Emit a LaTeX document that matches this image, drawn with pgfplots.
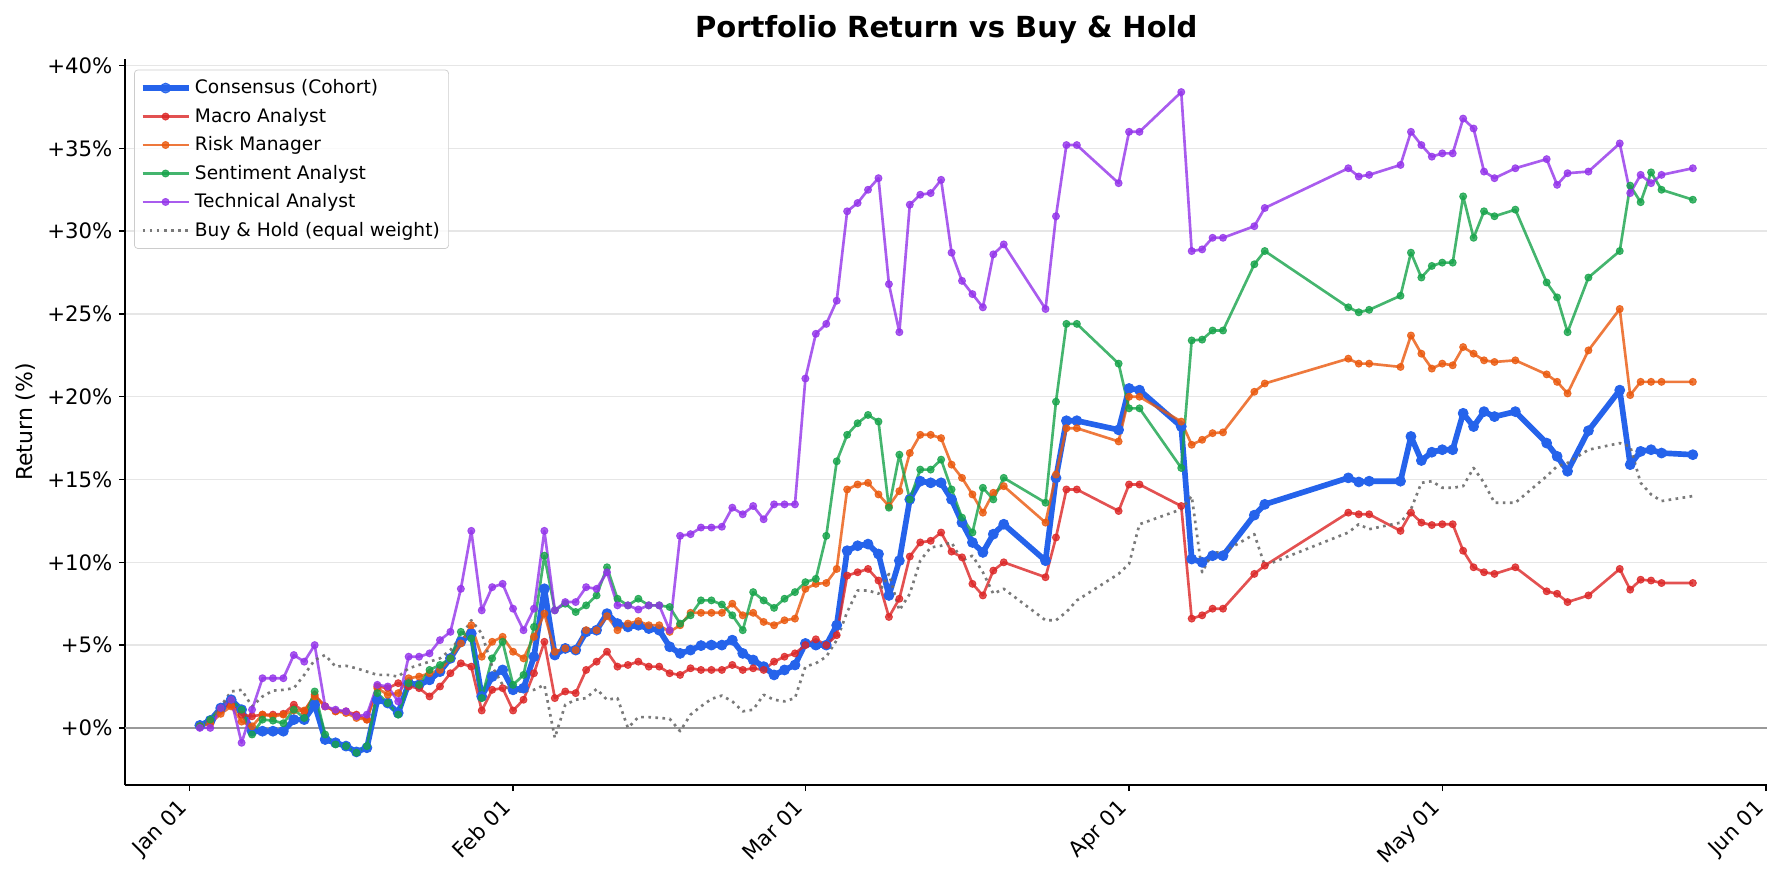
\documentclass[border=0pt]{standalone}
\usepackage{fontspec}
\setmainfont{DejaVu Sans}
\usepackage{pgfplots}
\usepackage{pgfplotstable}
\pgfplotsset{compat=1.18}
\definecolor{ccons}{HTML}{2563EB}
\definecolor{cmacro}{HTML}{DC2626}
\definecolor{crisk}{HTML}{EA580C}
\definecolor{csent}{HTML}{16A34A}
\definecolor{ctech}{HTML}{9333EA}
\definecolor{cbh}{HTML}{6B6B6B}
\definecolor{cgrid}{HTML}{E6E6E6}

\pgfplotstableread{
d cons macro risk sent tech bh
1 0.15 0.1 0.1 0.1 0.0 0.0
2 0.45 0.4 0.25 0.5 0.0 0.4
3 1.2 1.1 0.85 1.2 1.2 1.3
4 1.7 1.4 1.3 1.7 1.7 2.2
5 1.1 0.8 0.38 1.1 -0.9 2.3
6 -0.2 0.7 0.1 -0.4 1.1 1.3
7 -0.2 0.8 0.8 0.5 3.0 1.9
8 -0.2 0.8 0.7 0.44 3.0 2.25
9 -0.2 0.85 0.8 0.28 3.0 2.3
10 0.5 1.4 1.05 1.1 4.4 2.4
11 0.5 1.0 1.05 0.6 4.0 3.2
12 1.4 2.0 1.9 2.2 5.0 4.1
13 -0.7 1.3 1.3 -0.4 1.3 4.4
14 -0.9 1.0 1.0 -1.0 1.1 3.7
15 -1.1 1.0 0.9 -1.1 1.0 3.75
16 -1.45 0.8 0.6 -1.5 0.7 3.6
17 -1.2 0.5 0.5 -1.1 0.8 3.4
18 1.7 2.5 2.4 2.1 2.6 3.2
19 1.5 2.4 2.0 1.5 2.5 3.2
20 0.9 2.7 2.1 0.8 1.6 3.1
21 2.7 2.5 3.0 2.7 4.3 3.6
22 2.6 2.4 3.1 2.6 4.3 3.8
23 2.9 1.9 3.3 3.5 4.5 4.0
24 3.4 2.5 3.5 3.8 5.3 4.2
25 4.2 3.3 4.2 4.2 5.8 4.7
26 5.2 3.9 5.1 5.8 8.4 5.5
27 5.7 3.7 6.2 5.4 11.9 6.5
28 1.9 1.05 4.3 1.8 7.1 5.7
29 3.1 2.3 5.2 4.2 8.5 3.7
30 3.5 2.4 5.5 5.2 8.7 2.6
31 2.3 1.05 4.6 2.6 7.2 2.2
32 2.4 1.7 4.2 3.2 5.9 2.2
33 4.3 3.3 5.5 6.1 7.2 2.3
34 8.4 5.2 6.9 10.4 11.9 2.6
35 4.4 1.8 4.6 7.1 7.1 -0.6
36 4.8 2.2 4.8 7.5 7.6 1.4
37 4.7 2.1 4.7 7.0 7.6 1.7
38 5.8 3.5 5.9 7.4 8.5 1.8
39 5.9 4.0 5.9 8.0 8.4 2.35
40 6.9 4.6 6.75 9.7 9.4 1.7
41 6.3 3.7 5.9 7.8 7.4 1.8
42 6.1 3.8 6.3 7.4 7.4 0.0
43 6.2 4.0 6.45 7.8 7.15 0.65
44 6.0 3.7 6.2 7.4 7.4 0.65
45 5.9 3.7 6.2 7.4 7.4 0.6
46 4.9 3.3 5.8 7.3 5.9 0.55
47 4.5 3.2 6.2 6.3 11.6 -0.2
48 4.7 3.6 6.95 6.8 11.7 0.8
49 4.97 3.5 6.95 7.7 12.1 1.3
50 5.0 3.5 6.95 7.7 12.1 1.75
51 5.0 3.5 6.95 7.45 12.15 1.95
52 5.3 3.8 7.5 6.8 13.3 1.6
53 4.5 3.5 6.8 5.9 12.9 1.0
54 4.1 3.6 6.95 8.2 13.4 1.1
55 3.7 3.5 6.4 7.7 12.6 2.0
56 3.2 4.0 6.2 7.25 13.5 1.7
57 3.5 4.3 6.5 7.8 13.5 1.6
58 3.8 4.5 6.6 8.2 13.5 1.8
59 5.1 5.0 8.4 8.8 21.1 3.7
60 5.0 5.35 8.7 9.0 23.8 3.9
61 5.0 5.0 8.75 11.6 24.4 4.3
62 6.2 5.6 9.6 16.1 25.8 5.3
63 10.7 9.2 14.4 17.7 31.2 7.0
64 11.0 9.4 14.7 18.4 31.7 8.3
65 11.1 9.6 14.8 18.9 32.5 8.3
66 10.5 8.9 14.1 18.5 33.2 8.1
67 8.0 6.7 13.4 13.3 26.8 9.3
68 10.1 7.8 14.3 16.5 23.9 7.1
69 13.8 10.35 16.6 13.8 31.6 8.1
70 14.9 11.2 17.7 15.6 32.2 10.1
71 14.8 11.3 17.7 15.6 32.3 10.9
72 14.8 11.8 17.5 16.2 33.1 11.0
73 13.8 10.65 15.9 14.4 28.7 11.2
74 12.4 10.3 15.1 12.7 27.0 10.1
75 11.2 8.7 14.1 11.8 26.2 10.4
76 10.6 8.0 13.0 14.5 25.4 9.4
77 11.7 9.5 14.2 13.8 28.6 8.1
78 12.3 10.0 14.6 15.1 29.2 8.4
82 10.1 9.1 12.4 13.6 25.3 6.5
83 15.1 11.5 15.3 19.7 30.9 6.5
84 18.55 14.4 18.1 24.4 35.2 7.0
85 18.55 14.4 18.1 24.4 35.2 7.7
89 18.0 13.1 17.3 22.0 32.9 9.3
90 20.5 14.7 20.0 19.3 36.0 9.9
91 20.4 14.7 20.0 19.3 36.0 12.3
95 18.2 13.4 18.5 15.7 38.4 13.2
96 10.2 6.6 17.1 23.4 28.8 14.0
97 10.0 6.8 17.4 23.45 28.9 9.4
98 10.4 7.2 17.8 24.0 29.6 10.6
99 10.4 7.2 17.85 24.0 29.6 10.6
102 12.85 9.3 20.3 28.0 30.3 11.7
103 13.5 9.8 20.8 28.8 31.4 9.8
111 15.1 13.0 22.3 25.4 33.8 11.8
112 14.85 12.9 22.0 25.1 33.3 12.3
113 14.9 12.9 22.0 25.25 33.4 12.0
116 14.9 11.9 21.8 26.1 34.0 12.4
117 17.6 13.0 23.7 28.7 36.0 13.2
118 16.15 12.4 22.6 27.2 35.2 14.8
119 16.65 12.25 21.7 27.9 34.5 14.9
120 16.8 12.3 22.0 28.1 34.7 14.5
121 16.8 12.3 21.9 28.1 34.7 14.5
122 19.0 10.7 23.0 32.1 36.8 14.6
123 18.2 9.7 22.6 29.6 36.2 15.7
124 19.1 9.4 22.2 31.2 33.6 14.8
125 18.8 9.3 22.1 30.9 33.2 13.6
127 19.1 9.7 22.2 31.3 33.8 13.6
130 17.2 8.25 21.35 26.9 34.35 15.2
131 16.4 8.1 20.9 26.0 32.8 15.8
132 15.5 7.6 20.2 23.9 33.5 16.0
134 17.95 8.0 22.8 27.2 33.6 16.8
137 20.4 9.6 25.3 28.8 35.3 17.2
138 15.9 8.35 20.1 32.75 32.3 17.0
139 16.7 8.95 20.9 31.75 33.4 14.8
140 16.8 8.9 20.9 33.55 32.9 14.1
141 16.6 8.75 20.9 32.5 33.4 13.7
144 16.5 8.75 20.9 31.9 33.8 14.0
}\data

\begin{document}
\begin{tikzpicture}
\useasboundingbox (0,0) rectangle (1008pt,498.6pt);
\begin{axis}[
  at={(70.7pt,55.3pt)}, anchor=south west,
  scale only axis, width=927.4pt, height=410pt,
  xmin=-6.15, xmax=151.15, ymin=-3.45, ymax=40.4,
  separate axis lines,
  axis x line*=bottom, axis y line*=left,
  x axis line style={-, black, line width=0.8pt},
  y axis line style={-, black, line width=0.8pt},
  xtick={0,31,59,90,120,151},
  xticklabels={Jan 01,Feb 01,Mar 01,Apr 01,May 01,Jun 01},
  ytick={0,5,10,15,20,25,30,35,40},
  yticklabels={+0\%,+5\%,+10\%,+15\%,+20\%,+25\%,+30\%,+35\%,+40\%},
  tick align=outside, major tick length=3.5pt,
  tick style={black, line width=0.8pt},
  ticklabel style={font=\fontsize{12}{14}\selectfont},
  yticklabel style={anchor=east, inner sep=0pt, xshift=-3.5pt},
  xticklabel style={xshift=-7pt, yshift=-3.5pt, rotate=45, anchor=north east, inner sep=0pt},
  ymajorgrids, grid style={color=cgrid, line width=0.8pt},
  legend cell align=left,
  legend style={at={(rel axis cs:0,1)}, anchor=north west, xshift=5pt, yshift=-6pt,
    draw=black!20, fill=white, fill opacity=0.8, text opacity=1, draw opacity=1,
    rounded corners=2pt, font=\fontsize{10.5}{12.5}\selectfont, row sep=2.6pt,
    inner xsep=3pt, inner ysep=3.5pt},
  legend image code/.code={\draw[mark repeat=2,mark phase=2] plot coordinates {(0pt,0pt) (13pt,0pt) (26pt,0pt)};},
  line join=round,
]
\draw[black!40, line width=0.9pt] (axis cs:-6.15,0) -- (axis cs:151.15,0);
\addplot[ccons, line width=3.2pt, mark=*, mark size=2.8pt, mark options={solid, line width=0.5pt}] table[x=d,y=cons]{\data};
\addlegendentry{Consensus (Cohort)}
\addplot[cmacro, opacity=0.8, line width=1.5pt, mark=*, mark size=2pt, mark options={solid, line width=0.5pt}] table[x=d,y=macro]{\data};
\addlegendentry{Macro Analyst}
\addplot[crisk, opacity=0.8, line width=1.5pt, mark=*, mark size=2pt, mark options={solid, line width=0.5pt}] table[x=d,y=risk]{\data};
\addlegendentry{Risk Manager}
\addplot[csent, opacity=0.8, line width=1.5pt, mark=*, mark size=2pt, mark options={solid, line width=0.5pt}] table[x=d,y=sent]{\data};
\addlegendentry{Sentiment Analyst}
\addplot[ctech, opacity=0.8, line width=1.5pt, mark=*, mark size=2pt, mark options={solid, line width=0.5pt}] table[x=d,y=tech]{\data};
\addlegendentry{Technical Analyst}
\addplot[cbh, opacity=0.9, line width=1.5pt, dash pattern=on 1.5pt off 2.5pt, no marks] table[x=d,y=bh]{\data};
\addlegendentry{Buy \& Hold (equal weight)}
\end{axis}
\node[font=\fontsize{16.4}{19}\selectfont\bfseries, anchor=base] at (534.4pt,477.4pt) {Portfolio Return vs Buy \& Hold};
\node[rotate=90, font=\fontsize{12.4}{14}\selectfont] at (14.5pt,260.3pt) {Return (\%)};
\end{tikzpicture}
\end{document}
